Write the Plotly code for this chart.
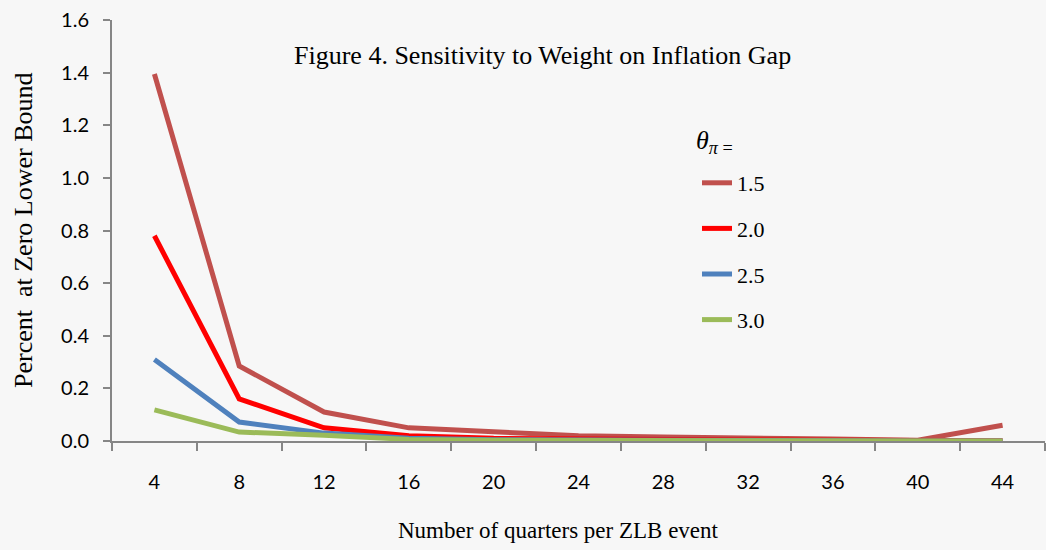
import plotly.graph_objects as go

quarters = [4, 8, 12, 16, 20, 24, 28, 32, 36, 40, 44]
series_names = ["1.5", "2.0", "2.5", "3.0"]
theta_15 = [1.395, 0.285, 0.11, 0.05, 0.035, 0.02, 0.015, 0.013, 0.008, 0.003, 0.06]
theta_20 = [0.78, 0.16, 0.05, 0.02, 0.01, 0.007, 0.005, 0.004, 0.003, 0.002, 0.001]
theta_25 = [0.31, 0.072, 0.03, 0.01, 0.005, 0.003, 0.002, 0.001, 0.001, 0.0, 0.0]
theta_30 = [0.118, 0.034, 0.022, 0.006, 0.003, 0.002, 0.001, 0.001, 0.0, 0.0, 0.0]
colors = ["#C0504D", "#FF0000", "#4F81BD", "#9BBB59"]

fig = go.Figure()
for i, (name, vals) in enumerate(zip(series_names, [theta_15, theta_20, theta_25, theta_30])):
    fig.add_trace(go.Scatter(x=quarters, y=vals, mode="lines", name=name,
                             legendgroup=name,
                             line=dict(color=colors[i], width=5)))

serif = "Liberation Serif"
L, T, R, B = 112, 20, 1045, 441
W, H = R - L, B - T


def px(x):
    return (x - L) / W


def py(y):
    return (B - y) / H


fig.update_layout(
    width=1046, height=550,
    paper_bgcolor="#F7F7F7", plot_bgcolor="#F7F7F7",
    margin=dict(l=L, r=1046 - R, t=T, b=550 - B),
    font=dict(family=serif, color="#000000"),
    showlegend=True,
    legend=dict(x=px(697), y=py(162), xanchor="left", yanchor="top",
                bgcolor="rgba(0,0,0,0)", tracegroupgap=14,
                font=dict(family=serif, size=22)),
    annotations=[
        dict(text="Figure 4. Sensitivity to Weight on Inflation Gap",
             x=px(542), xref="paper", y=py(55), yref="paper",
             xanchor="center", yanchor="middle",
             showarrow=False, font=dict(family=serif, size=26)),
        dict(text="<i>θ</i><sub><i>π</i> =</sub>",
             x=px(694), xref="paper", y=py(124), yref="paper",
             xanchor="left", yanchor="top", showarrow=False, font=dict(family=serif, size=26)),
        dict(text="Number of quarters per ZLB event",
             x=px(558), xref="paper", y=py(530), yref="paper",
             xanchor="center", yanchor="middle",
             showarrow=False, font=dict(family=serif, size=23)),
        dict(text="Percent\u00a0\u00a0at Zero Lower Bound", textangle=-90,
             x=px(23), xref="paper", y=py(230), yref="paper",
             xanchor="center", yanchor="middle",
             showarrow=False, font=dict(family=serif, size=26)),
    ],
)

fig.update_xaxes(range=[2, 46], tickvals=quarters, ticktext=[str(q) for q in quarters],
                 ticks="", showgrid=False, zeroline=False,
                 showline=True, linecolor="#868686", linewidth=2,
                 tickfont=dict(family="Lato", size=20), ticklabelstandoff=22,
                 minor=dict(tickmode="linear", tick0=2, dtick=4, ticks="outside",
                            ticklen=8, tickwidth=2, tickcolor="#868686", showgrid=False))
fig.update_yaxes(range=[0, 1.6], tickvals=[0, 0.2, 0.4, 0.6, 0.8, 1.0, 1.2, 1.4, 1.6],
                 ticktext=["0.0", "0.2", "0.4", "0.6", "0.8", "1.0", "1.2", "1.4", "1.6"],
                 ticks="outside", ticklen=7, tickwidth=2, tickcolor="#868686",
                 showgrid=False, zeroline=False, showline=True, linecolor="#868686", linewidth=2,
                 tickfont=dict(family="Lato", size=20), ticklabelstandoff=10)

fig.write_html("out.html", config={"displayModeBar": False},
               post_script="document.body.style.margin='0px';")
